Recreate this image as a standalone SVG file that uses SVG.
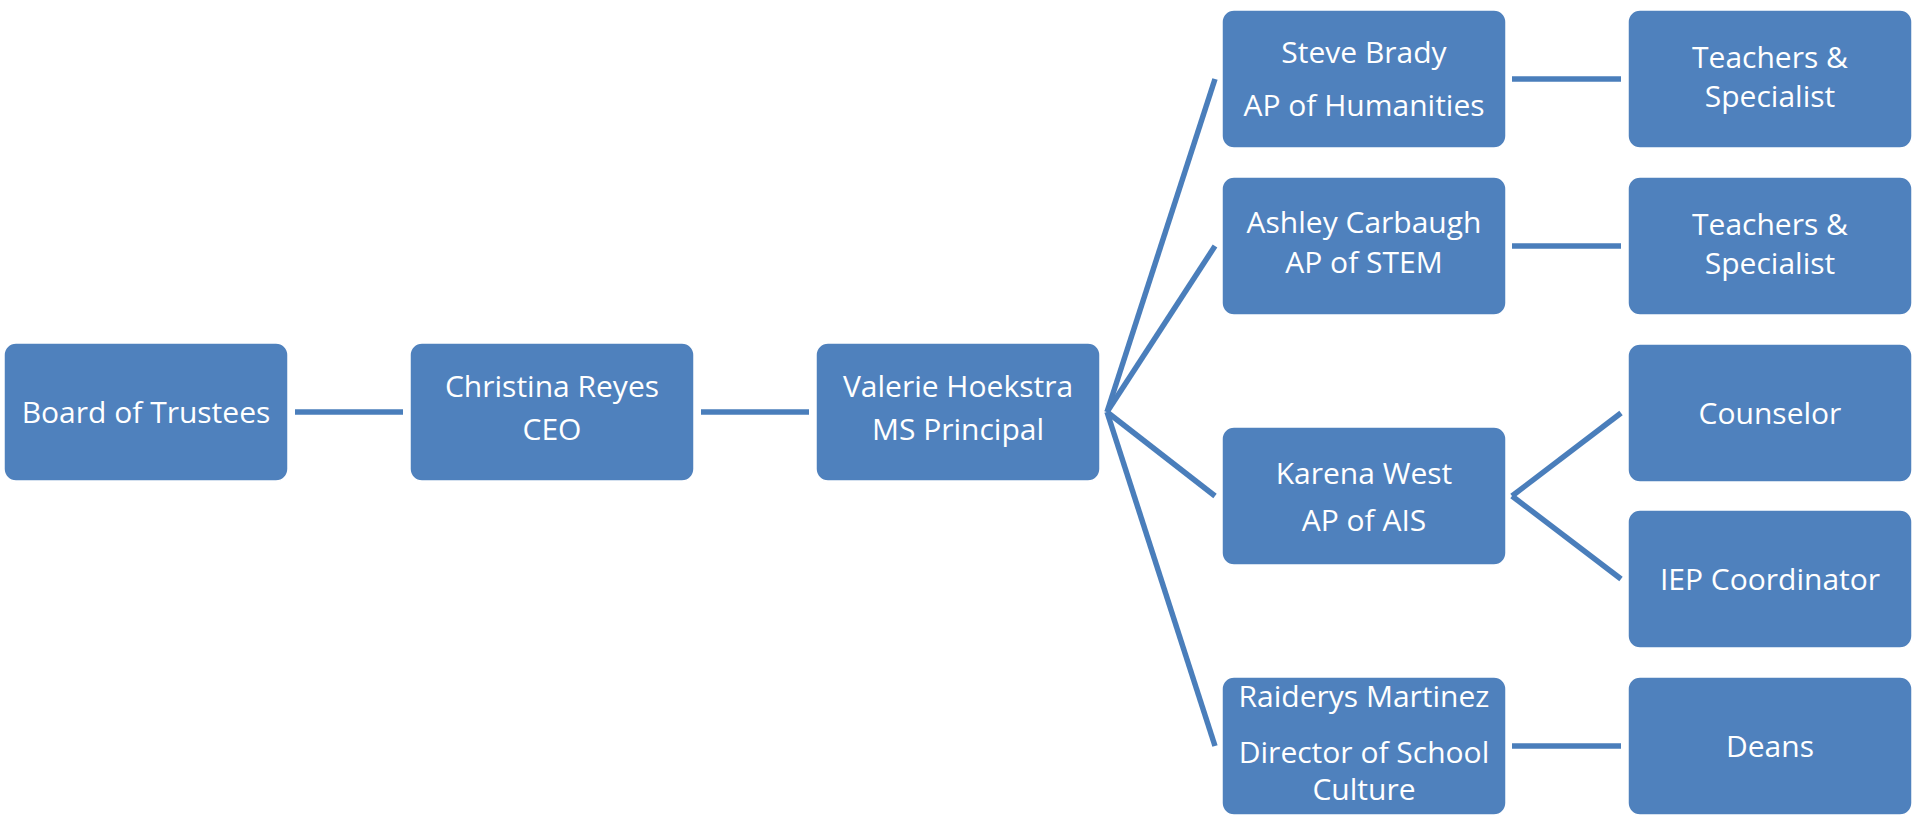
<svg xmlns="http://www.w3.org/2000/svg" width="1920" height="820" viewBox="0 0 1920 820">
<style>
.box{fill:#4F81BD;stroke:#FFFFFF;stroke-width:1.5}
.t{font-family:"Open Sans","Liberation Sans",sans-serif;font-size:30px;fill:#FFFFFF;text-anchor:middle}
.c{stroke:#4A7EBB;stroke-width:5.5;fill:none}
</style>
<rect width="1920" height="820" fill="#FFFFFF"/>
<g id="connectors">
<line class="c" x1="295" y1="412" x2="403" y2="412"/>
<line class="c" x1="701" y1="412" x2="809" y2="412"/>
<line class="c" x1="1107" y1="412" x2="1215" y2="79"/>
<line class="c" x1="1107" y1="412" x2="1215" y2="246"/>
<line class="c" x1="1107" y1="412" x2="1215" y2="496"/>
<line class="c" x1="1107" y1="412" x2="1215" y2="746"/>
<line class="c" x1="1512" y1="79" x2="1621" y2="79"/>
<line class="c" x1="1512" y1="246" x2="1621" y2="246"/>
<line class="c" x1="1512" y1="496" x2="1621" y2="413"/>
<line class="c" x1="1512" y1="496" x2="1621" y2="579"/>
<line class="c" x1="1512" y1="746" x2="1621" y2="746"/>
</g>
<g id="board"><rect class="box" x="4" y="343" width="284" height="138" rx="12"/><text class="t" x="146" y="423">Board of Trustees</text></g>
<g id="ceo"><rect class="box" x="410" y="343" width="284" height="138" rx="12"/><text class="t" x="552" y="397">Christina Reyes</text><text class="t" x="552" y="440">CEO</text></g>
<g id="principal"><rect class="box" x="816" y="343" width="284" height="138" rx="12"/><text class="t" x="958" y="397">Valerie Hoekstra</text><text class="t" x="958" y="440">MS Principal</text></g>
<g id="humanities"><rect class="box" x="1222" y="10" width="284" height="138" rx="12"/><text class="t" x="1364" y="63">Steve Brady</text><text class="t" x="1364" y="116">AP of Humanities</text></g>
<g id="stem"><rect class="box" x="1222" y="177" width="284" height="138" rx="12"/><text class="t" x="1364" y="233">Ashley Carbaugh</text><text class="t" x="1364" y="273">AP of STEM</text></g>
<g id="ais"><rect class="box" x="1222" y="427" width="284" height="138" rx="12"/><text class="t" x="1364" y="484">Karena West</text><text class="t" x="1364" y="531">AP of AIS</text></g>
<g id="culture"><rect class="box" x="1222" y="677" width="284" height="138" rx="12"/><text class="t" x="1364" y="707">Raiderys Martinez</text><text class="t" x="1364" y="763">Director of School</text><text class="t" x="1364" y="800">Culture</text></g>
<g id="teachers1"><rect class="box" x="1628" y="10" width="284" height="138" rx="12"/><text class="t" x="1770" y="68">Teachers &amp;</text><text class="t" x="1770" y="107">Specialist</text></g>
<g id="teachers2"><rect class="box" x="1628" y="177" width="284" height="138" rx="12"/><text class="t" x="1770" y="235">Teachers &amp;</text><text class="t" x="1770" y="274">Specialist</text></g>
<g id="counselor"><rect class="box" x="1628" y="344" width="284" height="138" rx="12"/><text class="t" x="1770" y="424">Counselor</text></g>
<g id="iep"><rect class="box" x="1628" y="510" width="284" height="138" rx="12"/><text class="t" x="1770" y="590">IEP Coordinator</text></g>
<g id="deans"><rect class="box" x="1628" y="677" width="284" height="138" rx="12"/><text class="t" x="1770" y="757">Deans</text></g>
</svg>
